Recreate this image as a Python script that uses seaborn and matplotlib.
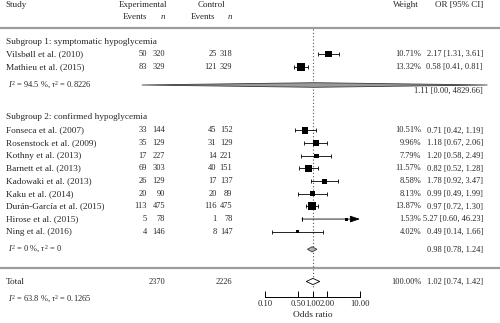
import numpy as np
import pandas as pd
import matplotlib
matplotlib.use("Agg")
import matplotlib.pyplot as plt
import seaborn as sns

# ---- study data -------------------------------------------------------------
sg1_studies = ["Vilsbøll et al. (2010)", "Mathieu et al. (2015)"]
sg1_exp_events = [50, 83]
sg1_exp_n = [320, 329]
sg1_ctl_events = [25, 121]
sg1_ctl_n = [318, 329]
sg1_or = [2.17, 0.58]
sg1_lo = [1.31, 0.41]
sg1_hi = [3.61, 0.81]
sg1_weight = [10.71, 13.32]

sg2_studies = ["Fonseca et al. (2007)", "Rosenstock et al. (2009)", "Kothny et al. (2013)",
               "Barnett et al. (2013)", "Kadowaki et al. (2013)", "Kaku et al. (2014)",
               "Durán-García et al. (2015)", "Hirose et al. (2015)", "Ning et al. (2016)"]
sg2_exp_events = [33, 35, 17, 69, 26, 20, 113, 5, 4]
sg2_exp_n = [144, 129, 227, 303, 129, 90, 475, 78, 146]
sg2_ctl_events = [45, 31, 14, 40, 17, 20, 116, 1, 8]
sg2_ctl_n = [152, 129, 221, 151, 137, 89, 475, 78, 147]
sg2_or = [0.71, 1.18, 1.20, 0.82, 1.78, 0.99, 0.97, 5.27, 0.49]
sg2_lo = [0.42, 0.67, 0.58, 0.52, 0.92, 0.49, 0.72, 0.60, 0.14]
sg2_hi = [1.19, 2.06, 2.49, 1.28, 3.47, 1.99, 1.30, 46.23, 1.66]
sg2_weight = [10.51, 9.96, 7.79, 11.57, 8.58, 8.13, 13.87, 1.53, 4.02]

# pooled estimates (subgroup 1 lower bound is 0.00 after rounding)
pooled_labels = ["sg1", "sg2", "total"]
pooled_or = [1.11, 0.98, 1.02]
pooled_lo = [0.000255, 0.78, 0.74]
pooled_hi = [4829.66, 1.24, 1.42]
pooled_text_lo = ["0.00", "0.78", "0.74"]
heterogeneity = [r"$I^2$ = 94.5 %, $\tau^2$ = 0.8226",
                 r"$I^2$ = 0 %, $\tau^2$ = 0",
                 r"$I^2$ = 63.8 %, $\tau^2$ = 0.1265"]
total_exp_n = 2370
total_ctl_n = 2226

tick_values = [0.10, 0.50, 1.00, 2.00, 10.00]
tick_labels = ["0.10", "0.50", "1.00", "2.00", "10.00"]

# ---- layout (pixel rows from top of a 500 x 323 canvas) ---------------------
W, H = 500, 323
row_sg1 = [54.0, 66.7]
row_sg2 = [130.5 + i * 12.65 for i in range(len(sg2_studies))]
y_sg1_title, y_sg2_title = 42.3, 117.0
y_pool = [85.0, 249.3, 281.5]
y_het = [85.0, 249.5, 299.5]
diamond_half = [2.3, 2.6, 3.1]
FS = 6.7      # labels
FN = 6.0      # numeric columns
FH = 6.5      # headers

sns.set_theme(style="white")
plt.rcParams["font.family"] = ["Liberation Serif", "DejaVu Serif"]
plt.rcParams["mathtext.fontset"] = "custom"
plt.rcParams["mathtext.rm"] = "Liberation Serif"
plt.rcParams["mathtext.it"] = "Liberation Serif:italic"

fig = plt.figure(figsize=(W / 100, H / 100), dpi=100)

# text layer in pixel coordinates
tx = fig.add_axes([0, 0, 1, 1])
tx.set_xlim(0, W)
tx.set_ylim(H, 0)
tx.axis("off")

# forest layer: log odds-ratio scale, bottom spine is the OR axis
x0, x1 = 265, 360
y_top, y_axis = 28.0, 296.5
fx = fig.add_axes([x0 / W, (H - y_axis) / H, (x1 - x0) / W, (y_axis - y_top) / H])
fx.set_facecolor("none")
fx.set_xscale("log")
fx.set_xlim(0.1, 10)
fx.set_ylim(y_axis, y_top)
for s in ["top", "left", "right"]:
    fx.spines[s].set_visible(False)
fx.spines["bottom"].set_color("black")
fx.spines["bottom"].set_linewidth(0.7)
fx.set_yticks([])
fx.set_xticks(tick_values)
fx.set_xticklabels(tick_labels)
fx.minorticks_off()
fx.tick_params(axis="x", direction="in", length=4.0, width=0.7, pad=2.5,
               labelsize=6.2, color="black", bottom=True)

# headers
hy1, hy2 = 5.0, 16.7
tx.text(5, hy1, "Study", fontsize=FH, va="center", ha="left")
tx.text(143, hy1, "Experimental", fontsize=FH, va="center", ha="center")
tx.text(211, hy1, "Control", fontsize=FH, va="center", ha="center")
tx.text(135, hy2, "Events", fontsize=FH, va="center", ha="center")
tx.text(163, hy2, "n", fontsize=FH, va="center", ha="center", style="italic")
tx.text(203, hy2, "Events", fontsize=FH, va="center", ha="center")
tx.text(230, hy2, "n", fontsize=FH, va="center", ha="center", style="italic")
tx.text(406, hy1, "Weight", fontsize=FH, va="center", ha="center")
tx.text(483, hy1, "OR [95% CI]", fontsize=FH, va="center", ha="right")

# separators
sep_color = "#9c9c9c"
for yy in [27.5, 267.5]:
    tx.plot([0, W], [yy, yy], color=sep_color, lw=1.6, solid_capstyle="butt")

# reference line at OR = 1
fx.plot([1, 1], [y_top + 1, 289], color="#555555", lw=0.8, ls=(0, (1, 2)))


def study_rows(names, ee, en, ce, cn, orv, lo, hi, wt, ys):
    for i, y in enumerate(ys):
        tx.text(6, y, names[i], fontsize=FS, va="center", ha="left")
        tx.text(147, y, str(ee[i]), fontsize=FN, va="center", ha="right")
        tx.text(165, y, str(en[i]), fontsize=FN, va="center", ha="right")
        tx.text(216.5, y, str(ce[i]), fontsize=FN, va="center", ha="right")
        tx.text(232.5, y, str(cn[i]), fontsize=FN, va="center", ha="right")
        tx.text(421, y, f"{wt[i]:.2f}%", fontsize=FN, va="center", ha="right")
        tx.text(483, y, f"{orv[i]:.2f} [{lo[i]:.2f}, {hi[i]:.2f}]",
                fontsize=FN, va="center", ha="right")


study_rows(sg1_studies, sg1_exp_events, sg1_exp_n, sg1_ctl_events, sg1_ctl_n,
           sg1_or, sg1_lo, sg1_hi, sg1_weight, row_sg1)
study_rows(sg2_studies, sg2_exp_events, sg2_exp_n, sg2_ctl_events, sg2_ctl_n,
           sg2_or, sg2_lo, sg2_hi, sg2_weight, row_sg2)
tx.text(6, y_sg1_title, "Subgroup 1: symptomatic hypoglycemia", fontsize=FS, va="center")
tx.text(6, y_sg2_title, "Subgroup 2: confirmed hypoglycemia", fontsize=FS, va="center")

# study-level estimates
df = pd.DataFrame({
    "or": sg1_or + sg2_or,
    "lo": sg1_lo + sg2_lo,
    "hi": sg1_hi + sg2_hi,
    "weight": sg1_weight + sg2_weight,
    "y": row_sg1 + row_sg2,
})
inside = df[df["hi"] <= 10]
fx.errorbar(inside["or"], inside["y"],
            xerr=[inside["or"] - inside["lo"], inside["hi"] - inside["or"]],
            fmt="none", ecolor="black", elinewidth=0.6, capsize=1.3, capthick=0.6)
for _, r in df[df["hi"] > 10].iterrows():
    # CI runs past the axis: cap on the left, arrow at the right limit
    fx.errorbar([r["lo"]], [r["y"]], xerr=[[0], [0]], fmt="none", ecolor="black",
                elinewidth=0.6, capsize=1.3, capthick=0.6)
    fx.annotate("", xy=(10, r["y"]), xytext=(r["lo"], r["y"]),
                arrowprops=dict(arrowstyle="-|>,head_length=0.5,head_width=0.17",
                                color="black", lw=0.6, shrinkA=0, shrinkB=0),
                annotation_clip=False)

side_px = {w: max(0.58 * w, 3.0) for w in df["weight"]}
sizes = {w: (p * 0.72) ** 2 for w, p in side_px.items()}
sns.scatterplot(data=df, x="or", y="y", size="weight", sizes=sizes, marker="s",
                color="black", linewidth=0, legend=False, ax=fx, zorder=4)
fx.set_xlabel("Odds ratio", fontsize=FS, labelpad=2.5)
fx.set_ylabel("")

# pooled diamonds
fills = ["#9a9a9a", "#b0b0b0", "white"]
edges = ["#3a3a3a", "#3a3a3a", "black"]
for k in range(3):
    y, h = y_pool[k], diamond_half[k]
    xs = [pooled_lo[k], pooled_or[k], pooled_hi[k], pooled_or[k]]
    ys = [y, y - h, y, y + h]
    fx.fill(xs, ys, facecolor=fills[k], edgecolor=edges[k], lw=0.6,
            clip_on=False, zorder=5)

pool_text_y = [90.7, 249.5, 281.5]
for k in range(3):
    tx.text(483, pool_text_y[k],
            f"{pooled_or[k]:.2f} [{pooled_text_lo[k]}, {pooled_hi[k]:.2f}]",
            fontsize=FN, va="center", ha="right")
for k in range(3):
    tx.text(7.5, y_het[k], heterogeneity[k], fontsize=FN, va="center", ha="left")

# totals
tx.text(6, y_pool[2], "Total", fontsize=FS, va="center", ha="left")
tx.text(165, y_pool[2], str(total_exp_n), fontsize=FN, va="center", ha="right")
tx.text(232.5, y_pool[2], str(total_ctl_n), fontsize=FN, va="center", ha="right")
tx.text(421, y_pool[2], "100.00%", fontsize=FN, va="center", ha="right")

fig.savefig("out.png", dpi=100)
